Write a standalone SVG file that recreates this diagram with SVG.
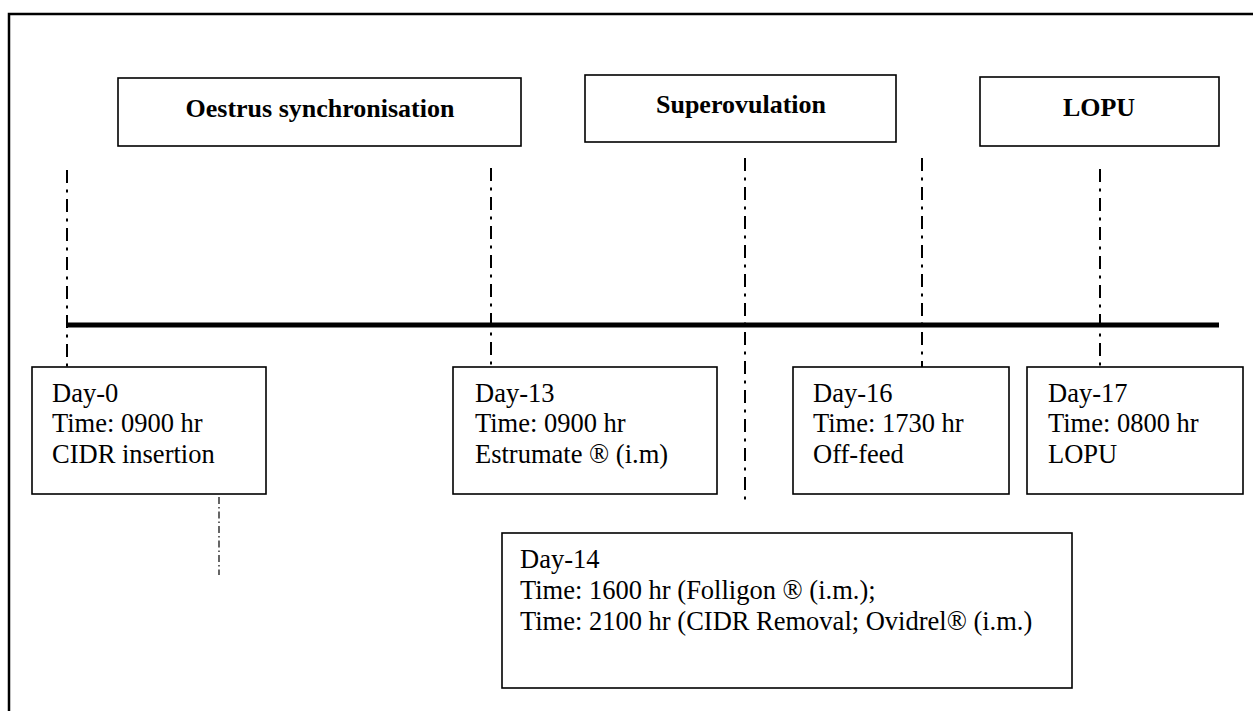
<svg xmlns="http://www.w3.org/2000/svg" width="1253" height="711" viewBox="0 0 1253 711">
  <style>
    .frame { fill: none; stroke: #000; stroke-width: 2.5; }
    .box { fill: #fff; stroke: #000; stroke-width: 1.6; }
    .title { font-family: "Liberation Serif", "Times New Roman", serif; font-weight: bold; font-size: 26px; fill: #000; text-anchor: middle; }
    .body { font-family: "Liberation Serif", "Times New Roman", serif; font-size: 26.5px; fill: #000; }
    .marker { stroke: #000; stroke-width: 2; fill: none; stroke-dasharray: 13 6.5 3 6.5; }
    .thin { stroke: #000; stroke-width: 1.2; fill: none; stroke-dasharray: 7 3 1.5 3; }
    .axis { stroke: #000; stroke-width: 5; fill: none; }
  </style>

  <rect width="1253" height="711" fill="#fff"/>
  <!-- outer border -->
  <rect class="frame" x="9" y="14" width="1260" height="710"/>

  <!-- timeline axis and dash-dot day markers -->
  <g id="connectors">
    <line class="axis" x1="67" y1="325" x2="1219" y2="325"/>
    <line class="marker" x1="67" y1="170" x2="67" y2="367"/>
    <line class="marker" x1="491" y1="168" x2="491" y2="367"/>
    <line class="marker" x1="745" y1="158" x2="745" y2="502"/>
    <line class="marker" x1="922" y1="158" x2="922" y2="367"/>
    <line class="marker" x1="1100" y1="169" x2="1100" y2="367"/>
    <line class="thin" x1="219" y1="468" x2="219" y2="575"/>
  </g>

  <!-- phase headers -->
  <g id="phase-oestrus">
    <rect class="box" x="118" y="78" width="403" height="68"/>
    <text class="title" x="320" y="117">Oestrus synchronisation</text>
  </g>
  <g id="phase-superovulation">
    <rect class="box" x="585" y="75" width="311" height="67"/>
    <text class="title" x="741" y="113">Superovulation</text>
  </g>
  <g id="phase-lopu">
    <rect class="box" x="980" y="77" width="239" height="69"/>
    <text class="title" x="1099" y="116">LOPU</text>
  </g>

  <!-- day events -->
  <g id="day-0">
    <rect class="box" x="32" y="367" width="234" height="127"/>
    <text class="body" x="52" y="402">Day-0</text>
    <text class="body" x="52" y="432">Time: 0900 hr</text>
    <text class="body" x="52" y="463">CIDR insertion</text>
  </g>
  <g id="day-13">
    <rect class="box" x="453" y="367" width="264" height="127"/>
    <text class="body" x="475" y="402">Day-13</text>
    <text class="body" x="475" y="432">Time: 0900 hr</text>
    <text class="body" x="475" y="463">Estrumate ® (i.m)</text>
  </g>
  <g id="day-16">
    <rect class="box" x="793" y="367" width="216" height="127"/>
    <text class="body" x="813" y="402">Day-16</text>
    <text class="body" x="813" y="432">Time: 1730 hr</text>
    <text class="body" x="813" y="463">Off-feed</text>
  </g>
  <g id="day-17">
    <rect class="box" x="1027" y="367" width="216" height="127"/>
    <text class="body" x="1048" y="402">Day-17</text>
    <text class="body" x="1048" y="432">Time: 0800 hr</text>
    <text class="body" x="1048" y="463">LOPU</text>
  </g>
  <g id="day-14">
    <rect class="box" x="502" y="533" width="570" height="155"/>
    <text class="body" x="520" y="568">Day-14</text>
    <text class="body" x="520" y="599">Time: 1600 hr (Folligon ® (i.m.);</text>
    <text class="body" x="520" y="630">Time: 2100 hr (CIDR Removal; Ovidrel® (i.m.)</text>
  </g>
</svg>
